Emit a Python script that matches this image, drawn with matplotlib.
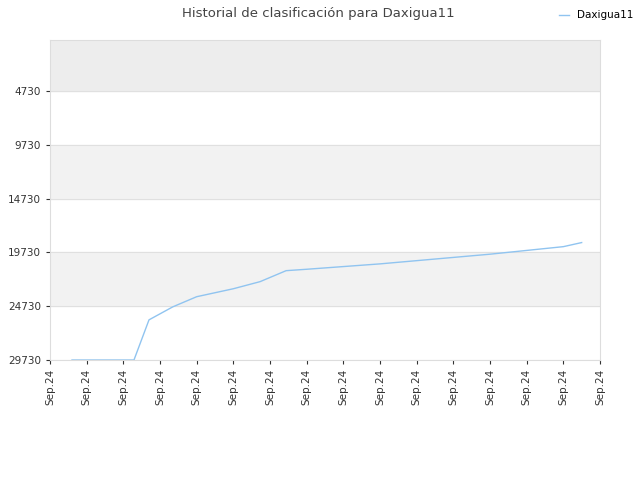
import matplotlib.pyplot as plt

# data (x in tick units, y = ranking position)
x_vals = [0.6, 2.29, 2.7, 3.35, 4.0, 5.0, 5.73, 6.44, 7, 8, 9, 10, 11, 12, 13, 14, 14.5]
ranks = [29730, 29730, 26000, 24790, 23850, 23110, 22450, 21430, 21300, 21050,
         20800, 20500, 20200, 19900, 19550, 19200, 18820]
y_ticks = [4730, 9730, 14730, 19730, 24730, 29730]
x_labels = ["Sep.24"] * 16

fig = plt.figure(figsize=(6.4, 4.8), dpi=100)
ax = fig.add_axes([50 / 640, 1 - 360 / 480, 550 / 640, 320 / 480])

# alternating background bands
bands = [(0, 4730, "#ededed"), (9730, 14730, "#f2f2f2"), (19730, 24730, "#f2f2f2")]
for lo, hi, c in bands:
    ax.axhspan(lo, hi, color=c, zorder=0)
for t in y_ticks:
    ax.axhline(t, color="#e0e0e0", lw=0.8, zorder=1)

ax.plot(x_vals, ranks, color="#90c4f0", lw=1, label="Daxigua11", zorder=2)

ax.set_xlim(0, 15)
ax.set_ylim(29730, 0)
ax.set_yticks(y_ticks)
ax.set_yticklabels([str(t) for t in y_ticks])
ax.set_xticks(range(16))
ax.set_xticklabels(x_labels, rotation=90)
ax.tick_params(labelsize=7.5, colors="#333333", length=3)
for s in ax.spines.values():
    s.set_color("#dddddd")

fig.text(0.497, 0.972, "Historial de clasificación para Daxigua11", ha="center",
         va="center", fontsize=9.5, color="#444444")
fig.legend(loc="center right", bbox_to_anchor=(1.0, 0.968), frameon=False,
           fontsize=7.5, handlelength=1, borderaxespad=0.2)

fig.savefig("out.png")
